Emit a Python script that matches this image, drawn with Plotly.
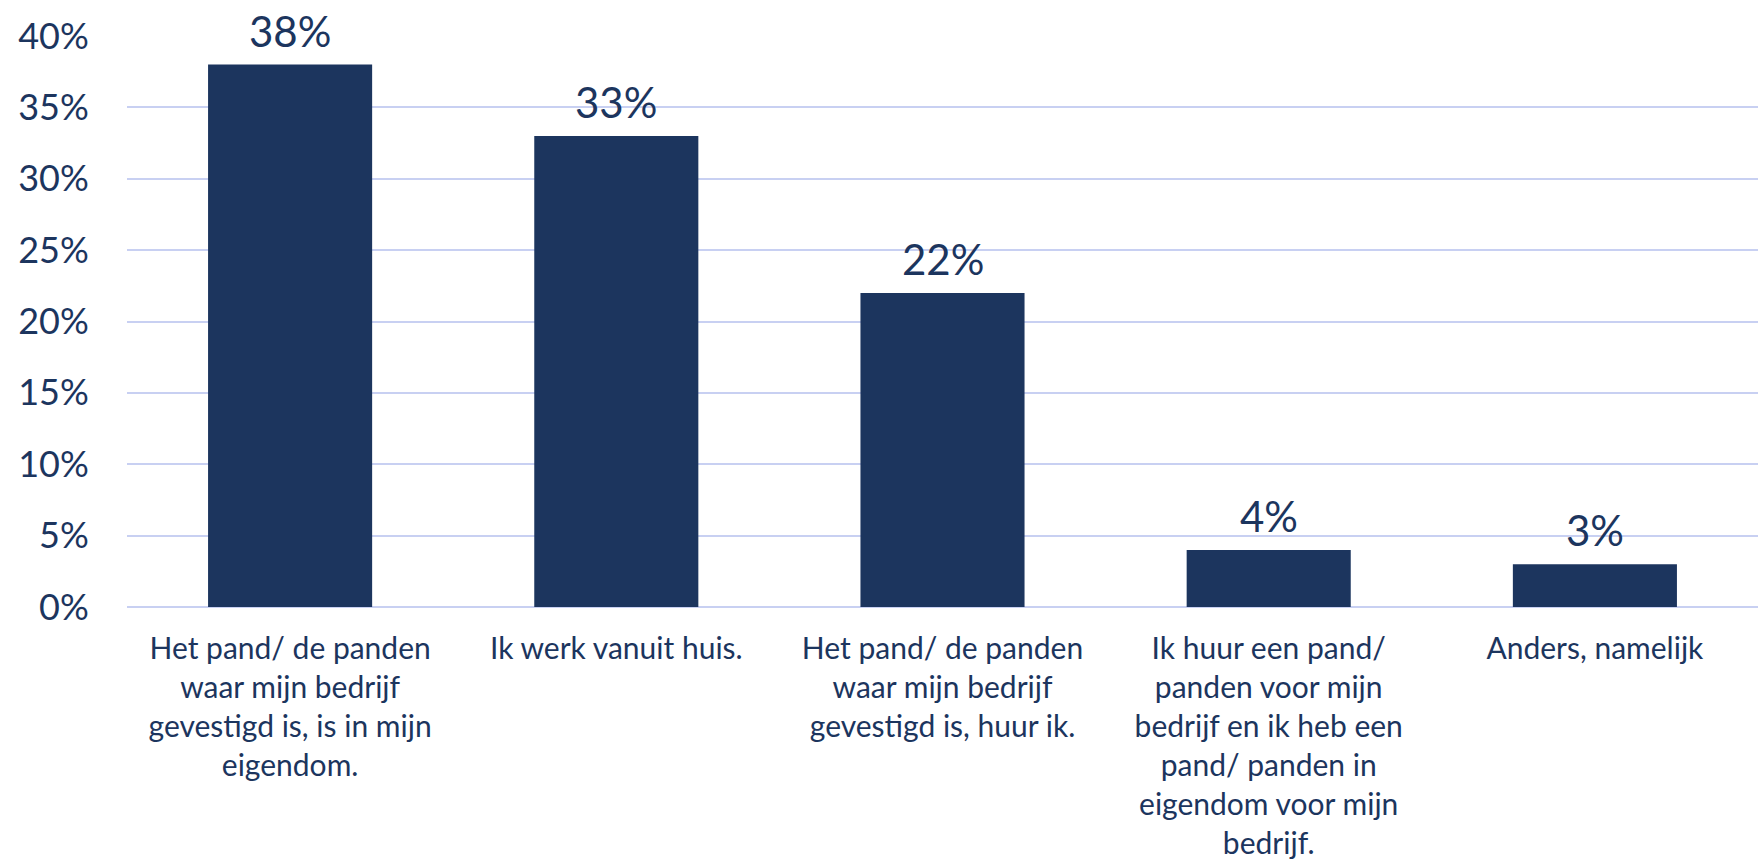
import plotly.graph_objects as go

categories = [
    "Het pand/ de panden<br>waar mijn bedrijf<br>gevestigd is, is in mijn<br>eigendom.",
    "Ik werk vanuit huis.",
    "Het pand/ de panden<br>waar mijn bedrijf<br>gevestigd is, huur ik.",
    "Ik huur een pand/<br>panden voor mijn<br>bedrijf en ik heb een<br>pand/ panden in<br>eigendom voor mijn<br>bedrijf.",
    "Anders, namelijk",
]
values = [38, 33, 22, 4, 3]
y_ticks = [0, 5, 10, 15, 20, 25, 30, 35, 40]
y_tick_labels = ["0%", "5%", "10%", "15%", "20%", "25%", "30%", "35%", "40%"]

NAVY = "#1C355E"
FONT = "Lato"

fig = go.Figure(
    go.Bar(
        x=categories,
        y=values,
        marker=dict(color=NAVY, line=dict(width=0)),
        hoverinfo="skip",
    )
)

for c, v in zip(categories, values):
    fig.add_annotation(
        x=c, y=v, text=f"{v}%", showarrow=False,
        yanchor="bottom", yshift=7,
        font=dict(family=FONT, size=42, color=NAVY),
    )

fig.update_layout(
    width=1758, height=864,
    margin=dict(l=127, r=0, t=36, b=257),
    paper_bgcolor="white", plot_bgcolor="white",
    bargap=0.497,
    showlegend=False,
    font=dict(family=FONT, color=NAVY),
)
fig.update_xaxes(
    automargin=False,
    showgrid=False, showline=False, zeroline=False,
    tickfont=dict(family=FONT, size=30, color=NAVY),
    tickangle=0, ticks="outside", ticklen=15, tickcolor="rgba(0,0,0,0)",
)
fig.update_yaxes(
    automargin=False,
    range=[0, 40], tickvals=y_ticks, ticktext=y_tick_labels,
    showgrid=True, gridcolor="#C8D0F2", gridwidth=1.6,
    zeroline=True, zerolinecolor="#C8D0F2", zerolinewidth=1.6,
    showline=False,
    tickfont=dict(family=FONT, size=36, color=NAVY),
    ticks="outside", ticklen=30, tickcolor="rgba(0,0,0,0)",
)

fig.write_html(
    "out.html",
    config={"displayModeBar": False},
    post_script="document.body.style.margin='0';document.body.style.overflow='hidden';",
)
